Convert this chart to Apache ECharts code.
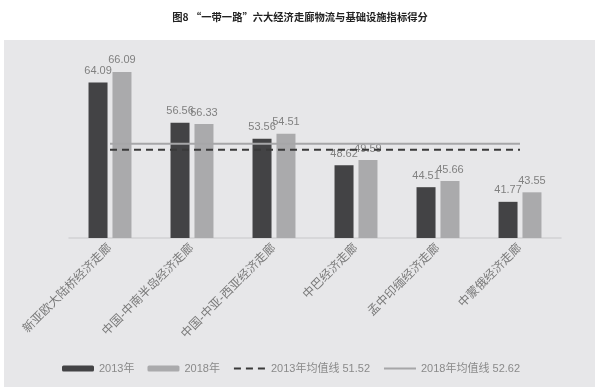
<!DOCTYPE html>
<html><head><meta charset="utf-8">
<script src="https://cdn.jsdelivr.net/npm/echarts@6/dist/echarts.min.js"></script>
<style>html,body{margin:0;padding:0;background:#fff}#c{width:600px;height:391px}</style>
</head><body><div id="c"></div>
<script>
const titleText = '图8 “一带一路”六大经济走廊物流与基础设施指标得分';
const categories = ['新亚欧大陆桥经济走廊','中国-中南半岛经济走廊','中国-中亚-西亚经济走廊','中巴经济走廊','孟中印缅经济走廊','中蒙俄经济走廊'];
const values2013 = [64.09, 56.56, 53.56, 48.62, 44.51, 41.77];
const values2018 = [66.09, 56.33, 54.51, 49.59, 45.66, 43.55];
const mean2013 = 51.52;
const mean2018 = 52.62;
const seriesNames = ['2013年','2018年','2013年均值线 51.52','2018年均值线 52.62'];

const FONT = '"Liberation Sans", "Noto Sans CJK SC", sans-serif';
const chart = echarts.init(document.getElementById('c'), null, {renderer:'canvas'});
chart.setOption({
  backgroundColor: '#ffffff',
  animation: false,
  textStyle: {fontFamily: FONT},
  graphic: [
    {type:'rect', z:-10, silent:true, shape:{x:4, y:40, width:591, height:347}, style:{fill:'#e7e7e9'}},
    {type:'text', left:'center', top:12, style:{text:titleText, fill:'#222', font:'bold 10.3px "Noto Sans CJK SC", serif'}}
  ],
  legend: {
    left: 57, top: 358,
    itemWidth: 32, itemHeight: 6, itemGap: 13,
    textStyle: {color:'#8a8a8a', fontSize: 11, fontFamily: FONT},
    data: [
      {name: seriesNames[0]},
      {name: seriesNames[1]},
      {name: seriesNames[2], itemStyle:{opacity:0}},
      {name: seriesNames[3], itemStyle:{opacity:0}}
    ]
  },
  grid: {left: 69, right: 39, top: 51, bottom: 153},
  xAxis: {
    type: 'category', data: categories,
    axisLine: {lineStyle:{color:'#d2d2d4', width:1.5}},
    axisTick: {show:false},
    axisLabel: {rotate:45, color:'#7a7a7a', fontSize:12, margin:8, interval:0, fontFamily: FONT}
  },
  yAxis: {type:'value', min:35, max:70, show:false, splitLine:{show:false}},
  series: [
    {name: seriesNames[0], type:'bar', data: values2013, barWidth:19, barGap:'26%',
     itemStyle:{color:'#434345'},
     label:{show:true, position:'top', distance:6, color:'#808080', fontSize:11}},
    {name: seriesNames[1], type:'bar', data: values2018, barWidth:19,
     itemStyle:{color:'#aaaaac'},
     label:{show:true, position:'top', distance:6, color:'#808080', fontSize:11}},
    {name: seriesNames[2], type:'line', symbol:'none', z:5,
     data: [[categories[0], mean2013],[categories[categories.length-1], mean2013]],
     lineStyle:{color:'#3a3a3a', width:2, type:[7,5]}, itemStyle:{color:'#3a3a3a'}},
    {name: seriesNames[3], type:'line', symbol:'none', z:5,
     data: [[categories[0], mean2018],[categories[categories.length-1], mean2018]],
     lineStyle:{color:'#a6a6a8', width:2, type:'solid'}, itemStyle:{color:'#a6a6a8'}}
  ]
});
</script></body></html>
